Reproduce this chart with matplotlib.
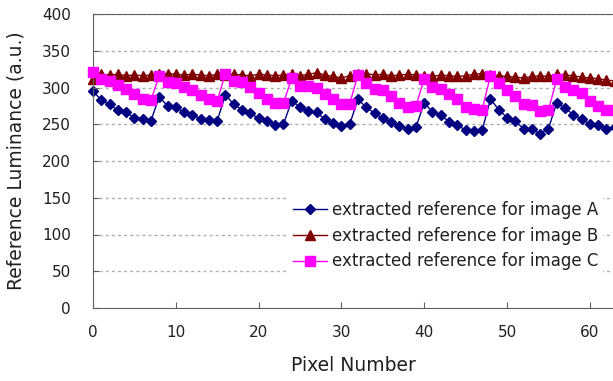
import matplotlib
matplotlib.use("Agg")
import matplotlib.pyplot as plt
import numpy as np

# pixel index 0..63
pixel = np.arange(64)

image_a = [295, 283, 277, 269, 266, 259, 257, 255,
           287, 275, 273, 266, 263, 257, 256, 255,
           290, 277, 270, 265, 258, 255, 249, 250,
           282, 273, 268, 266, 257, 252, 248, 250,
           284, 273, 265, 258, 253, 247, 244, 246,
           279, 267, 263, 253, 249, 242, 241, 242,
           284, 270, 259, 254, 244, 243, 237, 244,
           279, 272, 263, 257, 250, 249, 244, 246]

image_b = [311, 318, 317, 318, 316, 317, 316, 317,
           318, 319, 318, 317, 318, 317, 316, 318,
           317, 318, 317, 316, 318, 317, 316, 317,
           318, 316, 318, 320, 317, 315, 313, 316,
           318, 319, 317, 318, 316, 317, 318, 317,
           316, 315, 317, 316, 315, 316, 318, 319,
           317, 316, 315, 314, 313, 315, 316, 315,
           318, 317, 316, 314, 313, 312, 310, 309]

image_c = [321, 312, 309, 303, 298, 291, 285, 283,
           316, 307, 306, 301, 297, 290, 284, 282,
           319, 309, 307, 301, 292, 285, 279, 279,
           313, 302, 302, 300, 291, 284, 278, 278,
           317, 306, 298, 296, 288, 279, 274, 275,
           311, 301, 298, 291, 284, 273, 271, 270,
           316, 306, 296, 288, 278, 276, 268, 269,
           311, 301, 297, 293, 281, 275, 270, 270]

labels = ["extracted reference for image A",
          "extracted reference for image B",
          "extracted reference for image C"]

plt.rcParams['font.family'] = ['DejaVu Sans']

fig = plt.figure(figsize=(6.13, 3.81), dpi=100)
ax = fig.add_axes([93/613, 73/381, 520/613, 294/381])

ax.plot(pixel, image_a, color='#000080', marker='D', markersize=5.5, lw=1, label=labels[0], clip_on=False, zorder=1)
ax.plot(pixel, image_b, color='#800000', marker='^', markersize=6.5, lw=1, label=labels[1], clip_on=False, zorder=2)
ax.plot(pixel, image_c, color='#FF00FF', marker='s', markersize=6.5, lw=1, label=labels[2], clip_on=False, zorder=3)

ax.set_xlim(0, 62.8)
ax.set_ylim(0, 400)
ax.set_xticks(range(0, 61, 10))
ax.set_yticks(range(0, 401, 50))
ax.tick_params(direction='in', length=4, color='#606060', labelsize=11, labelcolor='#202020')
ax.tick_params(axis='x', pad=12)
ax.tick_params(axis='y', pad=16)

for y in range(50, 401, 50):
    ax.axhline(y, color='#b0b0b0', lw=1, ls=(0, (2.2, 2.2)), zorder=0)

for side in ['left', 'bottom', 'top']:
    ax.spines[side].set_color('#606060')
ax.spines['right'].set_visible(False)

ax.set_xlabel("Pixel Number", fontsize=13.5, color='#202020', labelpad=12)
ax.set_ylabel("Reference Luminance (a.u.)", fontsize=13.5, color='#202020', labelpad=12)

leg = ax.legend(loc='upper left', bbox_to_anchor=(280/613, 1 - 188/381),
                bbox_transform=fig.transFigure, fontsize=12, frameon=True,
                facecolor='white', edgecolor='none', framealpha=1,
                handlelength=2.0, handletextpad=0.3, labelspacing=0.45,
                borderpad=0.3, fancybox=False)
for t in leg.get_texts():
    t.set_color('#202020')

fig.savefig("out.png", dpi=100)
